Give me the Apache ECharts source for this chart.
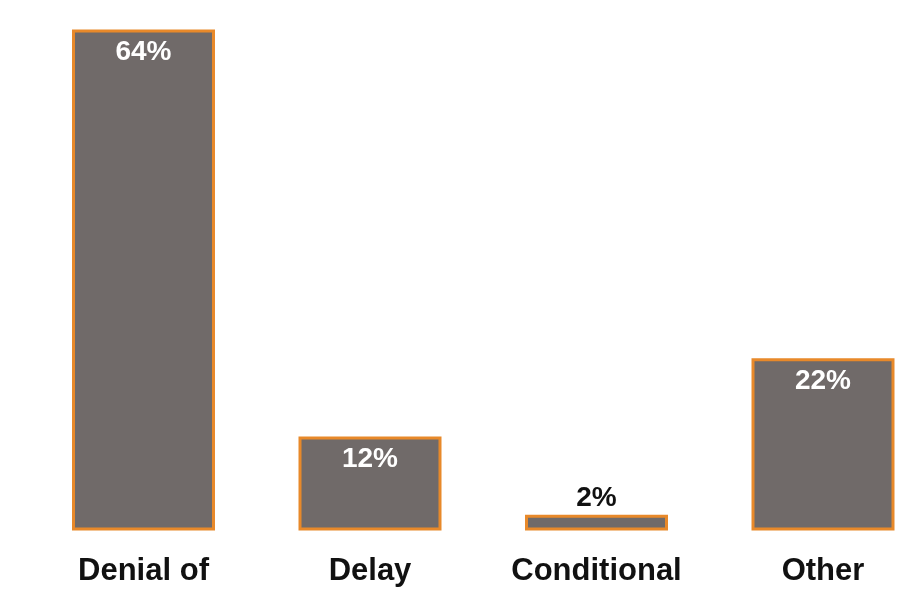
<!DOCTYPE html>
<html><head><meta charset="utf-8">
<script src="https://cdn.jsdelivr.net/npm/echarts@6/dist/echarts.min.js"></script>
<style>html,body{margin:0;padding:0;background:#fff}#c{width:903px;height:594px}</style>
</head><body><div id="c"></div>
<script>
const categories = ['Denial of', 'Delay', 'Conditional', 'Other'];
const values = [64, 12, 2, 22];
const labels = ['64%', '12%', '2%', '22%'];

const chart = echarts.init(document.getElementById('c'));
chart.setOption({
  animation: false,
  backgroundColor: '#ffffff',
  grid: { left: 143.5, right: 80, top: 29.5, bottom: 63.5, containLabel: false },
  xAxis: {
    type: 'category', data: categories, boundaryGap: false,
    axisLine: { show: false }, axisTick: { show: false },
    axisLabel: { interval: 0, fontFamily: 'Liberation Sans', fontWeight: 'bold', fontSize: 31, color: '#111', margin: 25 }
  },
  yAxis: { type: 'value', min: 0, max: 64, show: false, splitLine: { show: false } },
  series: [{
    type: 'bar',
    barWidth: 143,
    data: values.map((v, i) => ({
      value: v,
      label: i === 2
        ? { show: true, position: 'top', distance: 3, color: '#111', formatter: labels[i] }
        : { show: true, position: 'insideTop', distance: 9, color: '#ffffff', formatter: labels[i] }
    })),
    itemStyle: { color: '#706a69', borderColor: '#e8892a', borderWidth: 3 },
    label: { fontFamily: 'Liberation Sans', fontWeight: 'bold', fontSize: 28 }
  }]
});
</script></body></html>
